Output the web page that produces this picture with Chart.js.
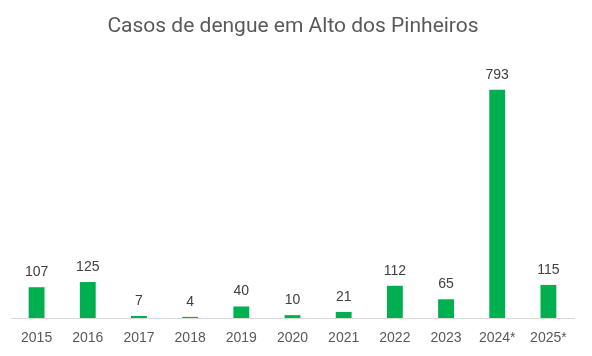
<!DOCTYPE html>
<html>
<head>
<meta charset="utf-8">
<script src="https://cdn.jsdelivr.net/npm/chart.js@4/dist/chart.umd.min.js"></script>
<style>
html,body{margin:0;padding:0;background:#fff;}
#wrap{width:592px;height:356px;position:relative;}
</style>
</head>
<body>
<div id="wrap"><canvas id="c" width="592" height="356"></canvas></div>
<script>
const titleText = "Casos de dengue em Alto dos Pinheiros";
const categories = ["2015","2016","2017","2018","2019","2020","2021","2022","2023","2024*","2025*"];
const cases = [107,125,7,4,40,10,21,112,65,793,115];
const yMax = 900;

const labelPlugin = {
  id: 'labels',
  afterDatasetsDraw(chart) {
    const ctx = chart.ctx;
    const meta = chart.getDatasetMeta(0);
    ctx.save();
    ctx.font = '14px "Liberation Sans", Arial, sans-serif';
    ctx.fillStyle = '#404040';
    ctx.textAlign = 'center';
    ctx.textBaseline = 'alphabetic';
    meta.data.forEach((bar, i) => {
      ctx.fillText(String(cases[i]), bar.x, bar.y - 11);
    });
    ctx.restore();
  }
};
const titlePlugin = {
  id: 'ttl',
  afterDraw(chart) {
    const ctx = chart.ctx;
    ctx.save();
    ctx.font = '21px Roboto, "Liberation Sans", sans-serif';
    ctx.fillStyle = '#595959';
    ctx.textAlign = 'center';
    ctx.textBaseline = 'alphabetic';
    ctx.fillText(titleText, 293, 31.7);
    ctx.restore();
  }
};

new Chart(document.getElementById('c'), {
  type: 'bar',
  data: {
    labels: categories,
    datasets: [{
      data: cases,
      backgroundColor: '#00B050',
      categoryPercentage: 1,
      barPercentage: 0.31
    }]
  },
  options: {
    responsive: false,
    animation: false,
    layout: { padding: { top: 59, left: 11, right: 18, bottom: 0 } },
    plugins: { legend: { display: false }, title: { display: false }, tooltip: { enabled: false } },
    scales: {
      y: { display: false, min: 0, max: yMax },
      x: {
        afterFit(scale) { scale.height = 38; },
        grid: { display: false, drawTicks: false },
        border: { display: true, color: '#d9d9d9', width: 1 },
        ticks: { color: '#595959', padding: 12, font: { size: 14, family: '"Liberation Sans", Arial, sans-serif' }, maxRotation: 0, autoSkip: false }
      }
    }
  },
  plugins: [labelPlugin, titlePlugin]
});
</script>
</body>
</html>
